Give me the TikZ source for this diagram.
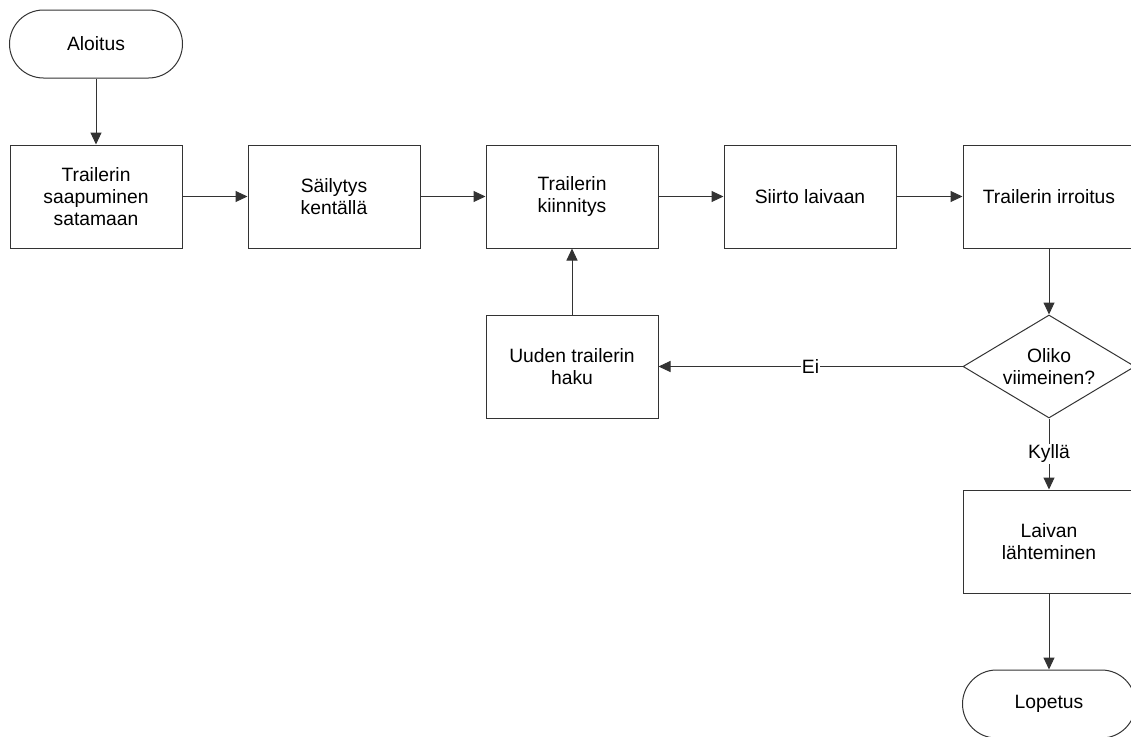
\documentclass[tikz,border=0pt]{standalone}
\usepackage{fontspec}
\setmainfont{Liberation Sans}
\usetikzlibrary{arrows.meta,shapes.geometric}
\begin{document}
\begin{tikzpicture}[x=1pt,y=-1pt,
  every node/.style={font=\fontsize{19.3}{22}\selectfont, align=center, text=black},
  stepbox/.style={draw=black!80, line width=1pt, minimum width=172pt, minimum height=103pt, inner sep=2pt},
  terminal/.style={draw=black!80, line width=1pt, minimum width=173pt, minimum height=68pt, rounded corners=34pt},
  decision/.style={draw=black!80, line width=1pt, diamond, shape aspect=1.67, minimum width=172pt, minimum height=103pt, inner sep=0pt},
  flow/.style={draw=black!80, line width=1pt, -{Triangle[length=12pt,width=11pt]}},
  lbl/.style={fill=white, inner sep=1pt}]
  \useasboundingbox (0,0) rectangle (1131,736);
  \clip (0,0) rectangle (1131,736);
  % start and end terminals
  \node[terminal] (start) at (96,44) {Aloitus};
  \node[terminal] (stop) at (1049,704) {Lopetus};
  % main row of process steps
  \node[stepbox] (arrive) at (96,196.5) {Trailerin\\saapuminen\\satamaan};
  \node[stepbox] (store) at (334,196.5) {Säilytys\\kentällä};
  \node[stepbox] (fasten) at (572,196.5) {Trailerin\\kiinnitys};
  \node[stepbox] (move) at (810,196.5) {Siirto laivaan};
  \node[stepbox] (release) at (1049,196.5) {Trailerin irroitus};
  % loop back and exit
  \node[decision] (last) at (1049,366.5) {Oliko\\viimeinen?};
  \node[stepbox] (fetch) at (572,366.5) {Uuden trailerin\\haku};
  \node[stepbox] (depart) at (1049,541.5) {Laivan\\lähteminen};
  % connectors
  \draw[flow] (start) -- (arrive);
  \draw[flow] (arrive) -- (store);
  \draw[flow] (store) -- (fasten);
  \draw[flow] (fasten) -- (move);
  \draw[flow] (move) -- (release);
  \draw[flow] (release) -- (last);
  \draw[flow] (last.west) -- node[lbl] {Ei} (fetch.east);
  \draw[flow] (fetch) -- (fasten);
  \draw[flow] (last.south) -- node[lbl] {Kyllä} (depart.north);
  \draw[flow] (depart) -- (stop);
\end{tikzpicture}
\end{document}
